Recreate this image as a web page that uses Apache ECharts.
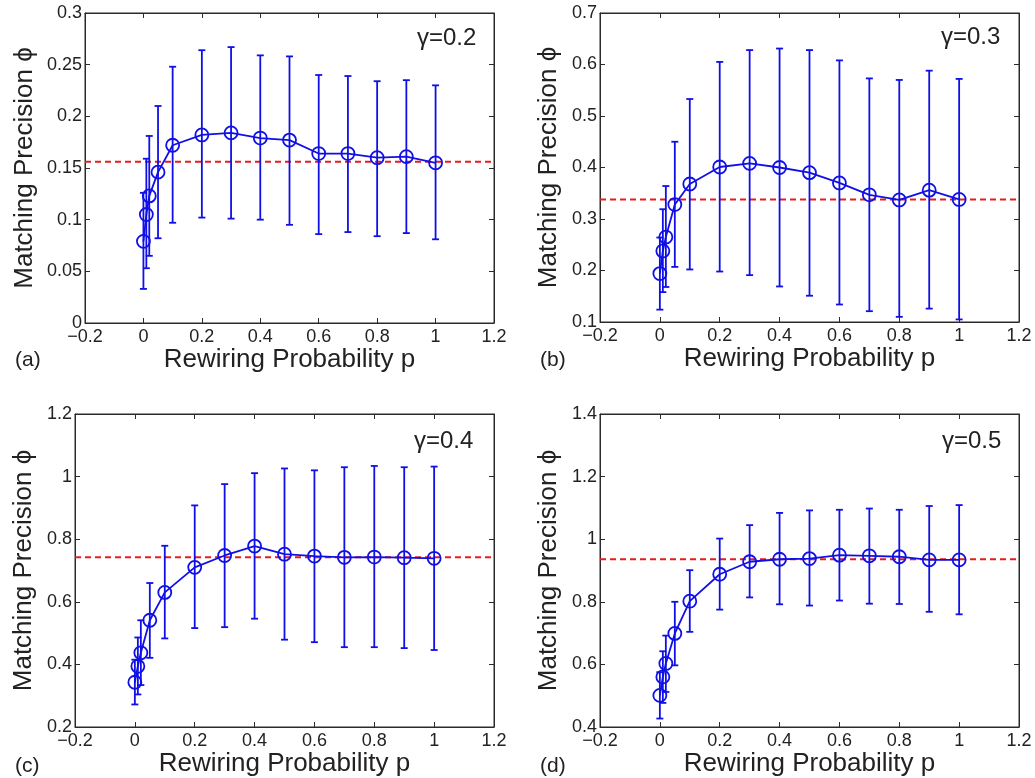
<!DOCTYPE html>
<html>
<head>
<meta charset="utf-8">
<script src="https://cdn.jsdelivr.net/npm/echarts@6/dist/echarts.min.js"></script>
<style>
html,body{margin:0;padding:0;background:#fff;}
#chart{width:1035px;height:778px;}
</style>
</head>
<body>
<div id="chart"></div>
<script>
// ---- data ----
const pVals = [0, 0.01, 0.02, 0.05, 0.1, 0.2, 0.3, 0.4, 0.5, 0.6, 0.7, 0.8, 0.9, 1.0];

const meanA = [0.079, 0.105, 0.123, 0.146, 0.172, 0.182, 0.184, 0.179, 0.177, 0.164, 0.164, 0.160, 0.161, 0.155];
const highA = [0.126, 0.159, 0.181, 0.210, 0.248, 0.264, 0.267, 0.259, 0.258, 0.240, 0.239, 0.234, 0.235, 0.230];
const lowA  = [0.033, 0.053, 0.065, 0.082, 0.097, 0.102, 0.101, 0.100, 0.095, 0.086, 0.088, 0.084, 0.087, 0.081];
const refA = 0.156;

const meanB = [0.194, 0.238, 0.265, 0.328, 0.368, 0.401, 0.408, 0.400, 0.390, 0.370, 0.347, 0.337, 0.356, 0.338];
const highB = [0.264, 0.319, 0.364, 0.450, 0.533, 0.605, 0.628, 0.631, 0.628, 0.608, 0.573, 0.570, 0.588, 0.572];
const lowB  = [0.124, 0.158, 0.168, 0.207, 0.202, 0.198, 0.191, 0.169, 0.151, 0.134, 0.121, 0.110, 0.126, 0.105];
const refB = 0.338;

const meanC = [0.343, 0.394, 0.437, 0.541, 0.630, 0.710, 0.748, 0.778, 0.752, 0.746, 0.742, 0.743, 0.741, 0.739];
const highC = [0.415, 0.486, 0.541, 0.660, 0.779, 0.908, 0.976, 1.011, 1.026, 1.020, 1.030, 1.034, 1.030, 1.032];
const lowC  = [0.272, 0.304, 0.334, 0.421, 0.483, 0.516, 0.519, 0.546, 0.479, 0.471, 0.455, 0.455, 0.452, 0.446];
const refC = 0.742;

const meanD = [0.501, 0.560, 0.603, 0.699, 0.802, 0.888, 0.928, 0.936, 0.938, 0.949, 0.947, 0.944, 0.934, 0.934];
const highD = [0.575, 0.642, 0.692, 0.800, 0.901, 1.002, 1.045, 1.084, 1.092, 1.094, 1.098, 1.094, 1.106, 1.109];
const lowD  = [0.427, 0.477, 0.512, 0.597, 0.704, 0.775, 0.814, 0.792, 0.788, 0.804, 0.794, 0.793, 0.768, 0.760];
const refD = 0.936;

const xTicks = {min: -0.2, max: 1.2, interval: 0.2};
const yTicksA = {min: 0, max: 0.3, interval: 0.05};
const yTicksB = {min: 0.1, max: 0.7, interval: 0.1};
const yTicksC = {min: 0.2, max: 1.2, interval: 0.2};
const yTicksD = {min: 0.4, max: 1.4, interval: 0.2};

const gammaLabels = ['γ=0.2', 'γ=0.3', 'γ=0.4', 'γ=0.5'];
const panelLabels = ['(a)', '(b)', '(c)', '(d)'];
const xTitle = 'Rewiring Probability p';
const yTitle = 'Matching Precision ϕ';

// ---- layout / style ----
const BLUE = '#1010e6';
const RED = '#e41e1e';
const AX = '#2a2a2a';
const FONT = 'Liberation Sans, Arial, Helvetica, sans-serif';

const panels = [
  {grid:{left:85, top:13, width:409, height:310}, y:yTicksA, mean:meanA, hi:highA, lo:lowA, ref:refA, yGap:47,
   gamma:{left:417, top:26}, label:{left:15, top:350}},
  {grid:{left:600, top:13, width:419, height:309}, y:yTicksB, mean:meanB, hi:highB, lo:lowB, ref:refB, yGap:38,
   gamma:{left:941, top:25}, label:{left:540, top:350}},
  {grid:{left:75, top:414, width:419, height:313}, y:yTicksC, mean:meanC, hi:highC, lo:lowC, ref:refC, yGap:38,
   gamma:{left:414, top:429}, label:{left:15, top:756}},
  {grid:{left:600, top:414, width:419, height:313}, y:yTicksD, mean:meanD, hi:highD, lo:lowD, ref:refD, yGap:38,
   gamma:{left:942, top:429}, label:{left:540, top:756}}
];

function fmt(v){
  const s = String(Math.round(v*1000)/1000);
  return s.replace('-', '\u2212');
}

const grid = [], xAxis = [], yAxis = [], series = [], title = [];

panels.forEach((pn, i) => {
  grid.push(Object.assign({show:true, borderColor:AX, borderWidth:1, backgroundColor:'#fff'}, pn.grid));
  const tick = {show:true, inside:true, length:5, lineStyle:{color:AX, width:1}};
  // bottom x
  xAxis.push({type:'value', gridIndex:i, min:xTicks.min, max:xTicks.max, interval:xTicks.interval,
    position:'bottom', splitLine:{show:false},
    axisLine:{show:true, onZero:false, lineStyle:{color:AX, width:1}},
    axisTick:tick,
    axisLabel:{show:true, formatter:fmt, color:'#222', fontSize:18, fontFamily:FONT, margin:5, showMinLabel:true, showMaxLabel:true},
    name:xTitle, nameLocation:'middle', nameGap:14,
    nameTextStyle:{fontSize:26, color:'#222', fontFamily:FONT}});
  // top x (ticks only)
  xAxis.push({type:'value', gridIndex:i, min:xTicks.min, max:xTicks.max, interval:xTicks.interval,
    position:'top', splitLine:{show:false},
    axisLine:{show:true, onZero:false, lineStyle:{color:AX, width:1}},
    axisTick:tick, axisLabel:{show:false}});
  // left y
  yAxis.push({type:'value', gridIndex:i, min:pn.y.min, max:pn.y.max, interval:pn.y.interval,
    position:'left', splitLine:{show:false},
    axisLine:{show:true, onZero:false, lineStyle:{color:AX, width:1}},
    axisTick:tick,
    axisLabel:{show:true, formatter:fmt, color:'#222', fontSize:18, fontFamily:FONT, margin:3, showMinLabel:true, showMaxLabel:true},
    name:yTitle, nameLocation:'middle', nameGap:pn.yGap,
    nameTextStyle:{fontSize:26, color:'#222', fontFamily:FONT}});
  // right y (ticks only)
  yAxis.push({type:'value', gridIndex:i, min:pn.y.min, max:pn.y.max, interval:pn.y.interval,
    position:'right', splitLine:{show:false},
    axisLine:{show:true, onZero:false, lineStyle:{color:AX, width:1}},
    axisTick:tick, axisLabel:{show:false}});

  const xi = i*2, yi = i*2;
  // reference (dashed) line across the full x range
  series.push({
    type:'line', xAxisIndex:xi, yAxisIndex:yi, z:2,
    data: [[xTicks.min, pn.ref], [xTicks.max, pn.ref]],
    symbol:'none', silent:true, animation:false,
    lineStyle:{color:RED, type:[6,4], width:2},
    emphasis:{disabled:true}
  });
  // error bars
  series.push({
    type:'custom', xAxisIndex:xi, yAxisIndex:yi, z:3,
    data: pVals.map((p, k) => [p, pn.lo[k], pn.hi[k]]),
    encode:{x:0, y:[1,2]},
    renderItem: function(params, api){
      const x = api.value(0);
      const lo = api.coord([x, api.value(1)]);
      const hi = api.coord([x, api.value(2)]);
      const hw = 3.5;
      const st = {stroke:BLUE, lineWidth:1.8, fill:null};
      return {type:'group', children:[
        {type:'line', shape:{x1:lo[0], y1:lo[1], x2:hi[0], y2:hi[1]}, style:st},
        {type:'line', shape:{x1:lo[0]-hw, y1:lo[1], x2:lo[0]+hw, y2:lo[1]}, style:st},
        {type:'line', shape:{x1:hi[0]-hw, y1:hi[1], x2:hi[0]+hw, y2:hi[1]}, style:st}
      ]};
    }
  });
  // mean line with circles
  series.push({
    type:'line', xAxisIndex:xi, yAxisIndex:yi, z:4,
    data: pVals.map((p, k) => [p, pn.mean[k]]),
    symbol:'circle', symbolSize:13,
    itemStyle:{color:'rgba(0,0,0,0)', borderColor:BLUE, borderWidth:1.8},
    lineStyle:{color:BLUE, width:1.8},
    emphasis:{disabled:true},
    animation:false
  });

  title.push({text:gammaLabels[i], left:pn.gamma.left, top:pn.gamma.top,
    textStyle:{fontSize:24, fontWeight:'normal', color:'#222', fontFamily:FONT}, padding:0});
  title.push({text:panelLabels[i], left:pn.label.left, top:pn.label.top,
    textStyle:{fontSize:21, fontWeight:'normal', color:'#222', fontFamily:FONT}, padding:0});
});

const chart = echarts.init(document.getElementById('chart'), null, {renderer:'canvas'});
chart.setOption({
  backgroundColor:'#fff',
  animation:false,
  title: title,
  grid: grid,
  xAxis: xAxis,
  yAxis: yAxis,
  series: series
});
</script>
</body>
</html>
